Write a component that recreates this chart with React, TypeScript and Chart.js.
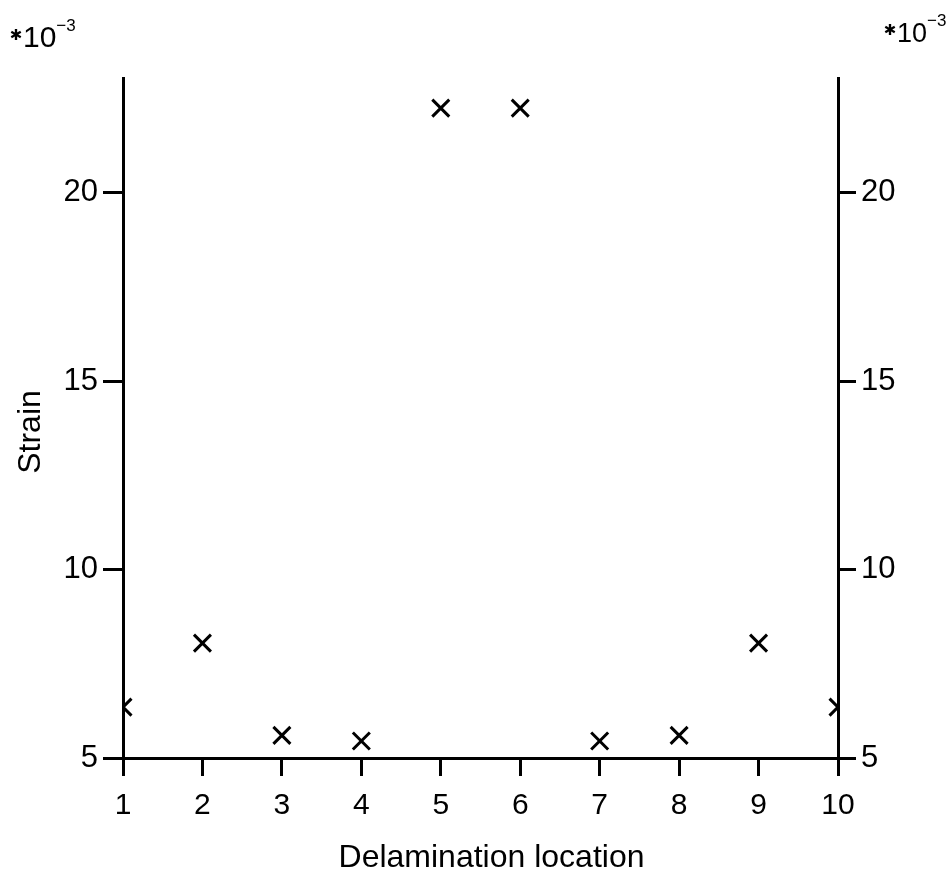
import React, { useEffect, useRef } from "react";
import { Chart, registerables } from "chart.js";

Chart.register(...registerables);

const locations = [1, 2, 3, 4, 5, 6, 7, 8, 9, 10];
const strainValues = [6.35, 8.05, 5.6, 5.45, 22.25, 22.25, 5.45, 5.6, 8.05, 6.35];
const yTickValues = [5, 10, 15, 20];
const xTickValues = [1, 2, 3, 4, 5, 6, 7, 8, 9, 10];
const yMin = 5;
const yMax = 23.05;
const xTitle = "Delamination location";
const yTitle = "Strain";
const multiplierStar = "\u2731";
const multiplierBase = "10";
const multiplierExp = "\u22123";

const FONT = "'Liberation Sans', Arial, sans-serif";

const textPlugin = {
  id: "textPlugin",
  afterDraw(chart: any) {
    const ctx = chart.ctx;
    const area = chart.chartArea;
    ctx.save();
    ctx.fillStyle = "#000";
    // y title
    ctx.save();
    ctx.translate(31, 432);
    ctx.rotate(-Math.PI / 2);
    ctx.font = `32px ${FONT}`;
    ctx.textAlign = "center";
    ctx.textBaseline = "middle";
    ctx.fillText(yTitle, 0, 0);
    ctx.restore();
    // x title
    ctx.font = `32px ${FONT}`;
    ctx.textAlign = "center";
    ctx.textBaseline = "middle";
    ctx.fillText(xTitle, (area.left + area.right) / 2 + 11, 858);
    // multipliers
    const drawMult = (x: number, y: number, size: number) => {
      ctx.textAlign = "center";
      ctx.textBaseline = "middle";
      ctx.font = `bold 15px 'DejaVu Sans', sans-serif`;
      ctx.fillText(multiplierStar, x + 6, y - 11);
      ctx.textAlign = "left";
      ctx.textBaseline = "alphabetic";
      ctx.font = `${size}px ${FONT}`;
      ctx.fillText(multiplierBase, x + 13, y);
      const w = ctx.measureText(multiplierBase).width;
      ctx.font = `17px ${FONT}`;
      ctx.fillText(multiplierExp, x + 13 + w, y - 16);
    };
    drawMult(10, 47, 30);
    drawMult(884, 42, 27);
    ctx.restore();
  },
};

const setTicks = (values: number[]) => (scale: any) => {
  scale.ticks = values.map((v) => ({ value: v }));
};

export default function App() {
  const canvasRef = useRef<HTMLCanvasElement | null>(null);

  useEffect(() => {
    if (!canvasRef.current) return;
    const axisCommon = {
      border: { display: true, width: 3, color: "#000" },
      grid: {
        display: true,
        drawOnChartArea: false,
        drawTicks: true,
        tickColor: "#000",
        tickWidth: 3,
        lineWidth: 3,
        color: "#000",
      },
    };
    const chart = new Chart(canvasRef.current, {
      type: "scatter",
      data: {
        datasets: [
          {
            data: locations.map((x, i) => ({ x, y: strainValues[i] })),
            pointStyle: "crossRot",
            pointRadius: 12,
            pointBorderWidth: 3,
            borderColor: "#000",
            backgroundColor: "#000",
            clip: 0,
            yAxisID: "y",
          },
        ],
      },
      options: {
        animation: false,
        responsive: true,
        maintainAspectRatio: false,
        layout: { padding: { top: 78, left: 0, right: 0, bottom: 0 } },
        plugins: {
          legend: { display: false },
          tooltip: { enabled: false },
          title: { display: false },
        },
        scales: {
          x: {
            type: "linear",
            position: "bottom",
            min: 1,
            max: 10,
            afterBuildTicks: setTicks(xTickValues),
            afterFit: (scale: any) => {
              scale.height = 131;
            },
            ...axisCommon,
            grid: { ...axisCommon.grid, tickLength: 18 },
            ticks: {
              color: "#000",
              font: { family: FONT, size: 30 },
              padding: 12,
              maxRotation: 0,
              autoSkip: false,
            },
          },
          y: {
            type: "linear",
            position: "left",
            min: yMin,
            max: yMax,
            afterBuildTicks: setTicks(yTickValues),
            afterFit: (scale: any) => {
              scale.width = 123;
            },
            ...axisCommon,
            grid: { ...axisCommon.grid, tickLength: 20 },
            ticks: {
              color: "#000",
              font: { family: FONT, size: 31 },
              padding: 5,
            },
          },
          y2: {
            type: "linear",
            position: "right",
            min: yMin,
            max: yMax,
            afterBuildTicks: setTicks(yTickValues),
            afterFit: (scale: any) => {
              scale.width = 112;
            },
            ...axisCommon,
            grid: { ...axisCommon.grid, tickLength: 18 },
            ticks: {
              color: "#000",
              font: { family: FONT, size: 31 },
              padding: 5,
            },
          },
        },
      },
      plugins: [textPlugin],
    } as any);
    return () => chart.destroy();
  }, []);

  return (
    <div style={{ position: "absolute", left: 0, top: 0, width: 950, height: 889, background: "#fff" }}>
      <canvas ref={canvasRef} />
    </div>
  );
}
